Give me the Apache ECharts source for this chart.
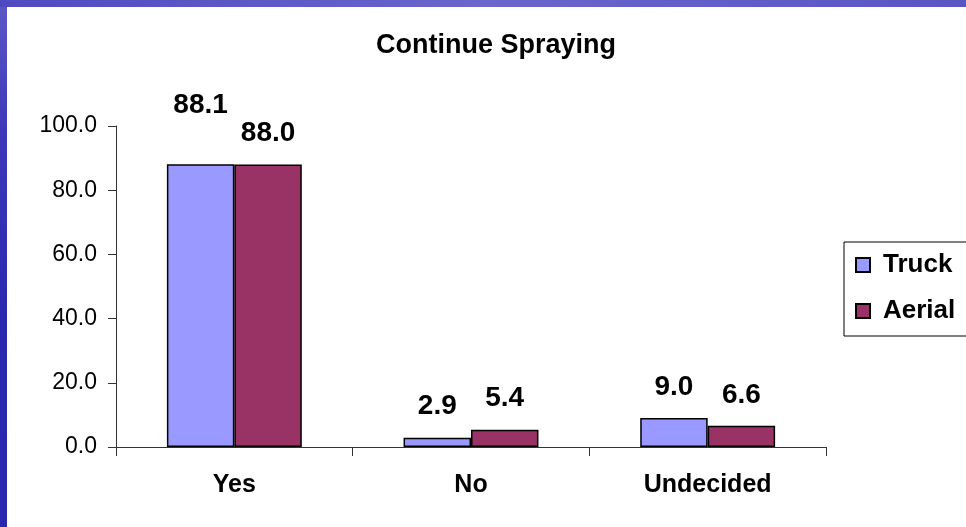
<!DOCTYPE html>
<html>
<head>
<meta charset="utf-8">
<script src="https://cdn.jsdelivr.net/npm/echarts@6/dist/echarts.min.js"></script>
<style>
  html, body { margin: 0; padding: 0; }
  body {
    width: 966px; height: 527px; overflow: hidden; position: relative;
    background: linear-gradient(180deg, #5d58c6 0%, #3c38b8 25%, #2b28b0 60%, #2a27ae 100%);
  }
  #white { position: absolute; left: 7px; top: 7px; width: 959px; height: 520px; background: #ffffff; }
  #topband { position: absolute; left: 0; top: 0; width: 966px; height: 7px;
    background: linear-gradient(90deg, #4f4ac0 0%, #6a66cc 50%, #5a55c4 100%); }
  #chart { position: absolute; left: 0; top: 0; width: 966px; height: 527px; }
</style>
</head>
<body>
<div id="topband"></div>
<div id="white"></div>
<div id="chart"></div>
<script>
const titleText = 'Continue Spraying';
const categories = ['Yes', 'No', 'Undecided'];
const seriesNames = ['Truck', 'Aerial'];
const truckValues = [88.1, 2.9, 9.0];
const aerialValues = [88.0, 5.4, 6.6];
const yTicks = [0, 20, 40, 60, 80, 100];

const colors = ['#9999FF', '#993366'];
const font = '"Liberation Sans", Arial, sans-serif';

const chart = echarts.init(document.getElementById('chart'), null, { renderer: 'canvas' });

function buildSeries(name, values, idx) {
  return {
    name: name,
    type: 'bar',
    barGap: '0%',
    barCategoryGap: '43%',
    itemStyle: { color: colors[idx], borderColor: '#000', borderWidth: 1.5 },
    label: {
      show: true, position: 'top', distance: 17,
      fontFamily: font, fontWeight: 'bold', fontSize: 28, color: '#000',
      formatter: p => p.value.toFixed(1)
    },
    data: values.map((v, i) => (idx === 0 && i === 0)
      ? { value: v, label: { distance: 45 } }
      : v)
  };
}

chart.setOption({
  animation: false,
  backgroundColor: 'transparent',
  title: {
    text: titleText, left: 496, top: 32, textAlign: 'center', padding: 0,
    textStyle: { fontFamily: font, fontWeight: 'bold', fontSize: 27, color: '#000' }
  },
  legend: {
    orient: 'vertical', left: 844, top: 242,
    padding: [10, 30, 12, 11], itemGap: 20,
    itemWidth: 14, itemHeight: 14,
    borderColor: '#000', borderWidth: 1,
    icon: 'rect',
    textStyle: { fontFamily: font, fontWeight: 'bold', fontSize: 26, color: '#000', padding: [0, 0, 0, 8] },
    data: seriesNames
  },
  grid: { left: 116, right: 140, top: 126, bottom: 80 },
  xAxis: {
    type: 'category', data: categories,
    axisLine: { lineStyle: { color: '#333', width: 1 } },
    axisTick: { show: true, length: 9, alignWithLabel: false, lineStyle: { color: '#333' } },
    axisLabel: { margin: 26, fontFamily: font, fontWeight: 'bold', fontSize: 25, color: '#000' }
  },
  yAxis: {
    type: 'value', min: yTicks[0], max: yTicks[yTicks.length - 1], interval: yTicks[1] - yTicks[0],
    axisLine: { show: true, lineStyle: { color: '#333', width: 1 } },
    axisTick: { show: true, length: 8, lineStyle: { color: '#333' } },
    splitLine: { show: false },
    axisLabel: { margin: 19, fontFamily: font, fontSize: 23, color: '#000', formatter: v => v.toFixed(1) }
  },
  series: [
    buildSeries(seriesNames[0], truckValues, 0),
    buildSeries(seriesNames[1], aerialValues, 1)
  ]
});
</script>
</body>
</html>
